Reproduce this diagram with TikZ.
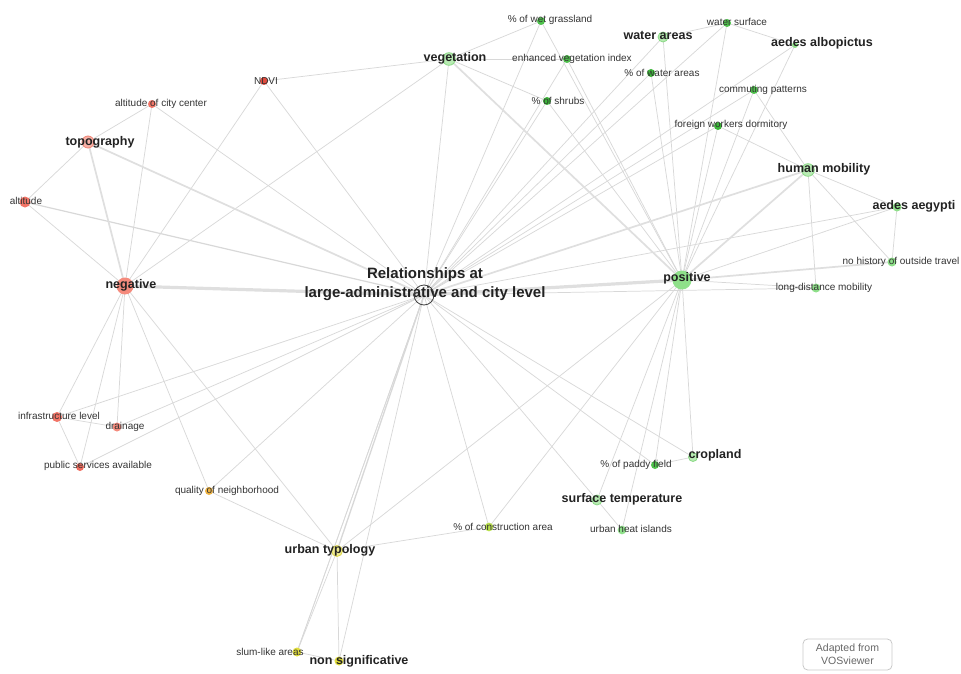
\documentclass[tikz,border=0pt]{standalone}
\usepackage{fontspec}
\setmainfont{Liberation Sans}
\definecolor{edgec}{HTML}{D8D8D8}
\definecolor{edgeb}{HTML}{DFDFDF}
\definecolor{txt}{HTML}{333333}
\definecolor{btxt}{HTML}{222222}
\definecolor{rneg}{HTML}{F58B7D}
\definecolor{rtopo}{HTML}{F6B0A6}
\definecolor{rtopod}{HTML}{EF8373}
\definecolor{ralt}{HTML}{F27466}
\definecolor{rdark}{HTML}{DF4A3D}
\definecolor{rpub}{HTML}{F06C5E}
\definecolor{oqual}{HTML}{F0B443}
\definecolor{gpos}{HTML}{8FE08A}
\definecolor{glight}{HTML}{B8EBB3}
\definecolor{gring}{HTML}{8AD985}
\definecolor{gmid}{HTML}{4FC24C}
\definecolor{gdark}{HTML}{3CB539}
\definecolor{ycon}{HTML}{B9E04C}
\definecolor{ylight}{HTML}{EFEB90}
\definecolor{yring}{HTML}{DCD64A}
\definecolor{ydot}{HTML}{E0DC3C}
\definecolor{wmk}{HTML}{666666}
\definecolor{wmkb}{HTML}{C8C8C8}
\tikzset{
  dot/.style={circle, inner sep=0pt, draw=none},
  edge/.style={draw=edgec, line width=0.55pt},
  edgeB/.style={draw=edgeb, line width=1.3pt},
  edgeC/.style={draw=edgeb, line width=2.4pt},
  sl/.style={text=txt, font=\fontsize{7.5}{9}\selectfont, inner sep=0pt},
  bl/.style={text=btxt, font=\fontsize{9.4}{11}\selectfont\bfseries, inner sep=0pt},
}
\begin{document}
\begin{tikzpicture}[x=0.75pt, y=-0.75pt]
\useasboundingbox (0,0) rectangle (961,674);
% ---------- nodes (positions) ----------
\node[dot, minimum size=15pt] (C) at (424,295) {};
\node[dot, minimum size=12.75pt] (neg) at (125,286) {};
\node[dot, minimum size=9pt] (topo) at (88,142) {};
\node[dot, minimum size=8.25pt] (alt) at (25,202) {};
\node[dot, minimum size=6pt] (altc) at (152,104) {};
\node[dot, minimum size=6pt] (ndvi) at (264,81) {};
\node[dot, minimum size=7.5pt] (infra) at (57,417) {};
\node[dot, minimum size=6.75pt] (drain) at (117,427) {};
\node[dot, minimum size=6pt] (pub) at (80,467) {};
\node[dot, minimum size=6pt] (qual) at (209,491) {};
\node[dot, minimum size=14.25pt] (pos) at (682,280) {};
\node[dot, minimum size=9.5pt] (veg) at (449,59) {};
\node[dot, minimum size=6pt] (wet) at (541,21) {};
\node[dot, minimum size=6pt] (evi) at (567,59) {};
\node[dot, minimum size=6pt] (shr) at (547,101) {};
\node[dot, minimum size=7.5pt] (wa) at (663,37) {};
\node[dot, minimum size=6pt] (ws) at (727,23) {};
\node[dot, minimum size=6pt] (pwa) at (651,73) {};
\node[dot, minimum size=4.5pt] (albo) at (795,45) {};
\node[dot, minimum size=6pt] (com) at (754,90) {};
\node[dot, minimum size=6pt] (fwd) at (718,126) {};
\node[dot, minimum size=9.5pt] (hm) at (808,170) {};
\node[dot, minimum size=6.75pt] (aeg) at (897,207) {};
\node[dot, minimum size=6.75pt] (noh) at (892,262) {};
\node[dot, minimum size=6.75pt] (ld) at (816,288) {};
\node[dot, minimum size=6.75pt] (crop) at (693,457) {};
\node[dot, minimum size=6pt] (pad) at (655,465) {};
\node[dot, minimum size=7.5pt] (st) at (597,500) {};
\node[dot, minimum size=6.5pt] (uhi) at (622,530) {};
\node[dot, minimum size=6.5pt] (con) at (489,527) {};
\node[dot, minimum size=8.25pt] (ut) at (337,551) {};
\node[dot, minimum size=6.75pt] (ns) at (339,661) {};
\node[dot, minimum size=6.75pt] (slum) at (297,652) {};
% ---------- edges ----------
\foreach \n in {altc,ndvi,veg,wet,evi,shr,wa,pwa,ws,albo,com,fwd,aeg,ld,crop,pad,st,con,ns,slum,qual,pub,drain,infra}
  \draw[edge] (C.center) -- (\n.center);
\foreach \n in {wet,evi,shr,wa,pwa,ws,albo,com,fwd,aeg,ld,crop,pad,st,uhi,con,ut}
  \draw[edge] (pos.center) -- (\n.center);
\foreach \n in {alt,altc,ndvi,veg,infra,drain,pub,qual,ut}
  \draw[edge] (neg.center) -- (\n.center);
\draw[edgeC] (C.center) -- (neg.center);
\draw[edgeC] (C.center) -- (pos.center);
\draw[edgeB] (C.center) -- (topo.center);
\draw[edgeB] (C.center) -- (hm.center);
\draw[edge, line width=0.9pt] (C.center) -- (alt.center);
\draw[edge, line width=1pt] (C.center) -- (ut.center);
\draw[edgeB] (neg.center) -- (topo.center);
\draw[edgeB] (pos.center) -- (veg.center);
\draw[edgeB] (pos.center) -- (hm.center);
\draw[edgeB] (pos.center) -- (noh.center);
\draw[edge] (topo.center) -- (alt.center);
\draw[edge] (topo.center) -- (altc.center);
\draw[edge] (ndvi.center) -- (veg.center);
\draw[edge] (veg.center) -- (wet.center);
\draw[edge] (veg.center) -- (evi.center);
\draw[edge] (veg.center) -- (shr.center);
\draw[edge] (wa.center) -- (ws.center);
\draw[edge] (ws.center) -- (albo.center);
\draw[edge] (com.center) -- (hm.center);
\draw[edge] (fwd.center) -- (hm.center);
\draw[edge] (hm.center) -- (aeg.center);
\draw[edge] (hm.center) -- (noh.center);
\draw[edge] (hm.center) -- (ld.center);
\draw[edge] (aeg.center) -- (noh.center);
\draw[edge] (crop.center) -- (pad.center);
\draw[edge] (st.center) -- (uhi.center);
\draw[edge] (con.center) -- (ut.center);
\draw[edge] (ut.center) -- (ns.center);
\draw[edge] (ut.center) -- (slum.center);
\draw[edge] (ut.center) -- (qual.center);
\draw[edge] (slum.center) -- (ns.center);
\draw[edge] (slum.center) -- (C.center);
\draw[edge] (infra.center) -- (drain.center);
\draw[edge] (infra.center) -- (pub.center);
% ---------- dots on top of edges ----------
\foreach \n/\c/\s in {neg/rneg/12.75pt, alt/ralt/8.25pt, altc/ralt/6pt, ndvi/rdark/6pt, infra/ralt/7.5pt, drain/rneg/6.75pt, pub/rpub/6pt, qual/oqual/6pt, pos/gpos/14.25pt, wet/gmid/6pt, evi/gmid/6pt, shr/gdark/6pt, ws/gmid/6pt, pwa/gdark/6pt, albo/gpos/4.5pt, com/gmid/6pt, fwd/gdark/6pt, aeg/gpos/6.75pt, noh/gpos/6.75pt, ld/gpos/6.75pt, pad/gmid/6pt, uhi/gpos/6.5pt, con/ycon/6.5pt, ns/ydot/6.75pt, slum/ydot/6.75pt}
  \fill[\c] (\n.center) circle[radius=\s/2];
\filldraw[fill=rtopo, draw=rtopod, line width=0.6pt] (topo.center) circle[radius=4.5pt];
\foreach \n/\s in {veg/9.5pt, wa/7.5pt, hm/9.5pt, st/7.5pt, crop/6.75pt}
  \filldraw[fill=glight, draw=gring, line width=0.6pt] (\n.center) circle[radius=\s/2];
\filldraw[fill=ylight, draw=yring, line width=0.6pt] (ut.center) circle[radius=4.125pt];
% ---------- labels ----------
\node[bl] (lneg) at (131,285) {negative};
\node[bl] (ltopo) at (100,142) {topography};
\node[sl] (lalt) at (26,201) {altitude};
\node[sl] (laltc) at (161,104) {altitude of city center};
\node[sl] (lndvi) at (266,81) {NDVI};
\node[sl] (linfra) at (59,416) {infrastructure level};
\node[sl] (ldrain) at (125,427) {drainage};
\node[sl] (lpub) at (98,466) {public services available};
\node[sl] (lqual) at (227,491) {quality of neighborhood};
\node[bl] (lveg) at (455,58) {vegetation};
\node[sl] (lwet) at (550,20) {\% of wet grassland};
\node[sl] (levi) at (572,59) {enhanced vegetation index};
\node[sl] (lshr) at (558,101) {\% of shrubs};
\node[bl] (lwa) at (658,35) {water areas};
\node[sl] (lws) at (737,22) {water surface};
\node[sl] (lpwa) at (662,73) {\% of water areas};
\node[bl] (lalbo) at (822,43) {aedes albopictus};
\node[sl] (lcom) at (763,90) {commuting patterns};
\node[sl] (lfwd) at (731,125) {foreign workers dormitory};
\node[bl] (lhm) at (824,169) {human mobility};
\node[bl] (laeg) at (914,206) {aedes aegypti};
\node[sl] (lnoh) at (901,262) {no history of outside travel};
\node[sl] (lld) at (824,288) {long-distance mobility};
\node[bl] (lpos) at (687,278) {positive};
\node[bl] (lcrop) at (715,455) {cropland};
\node[sl] (lpad) at (636,465) {\% of paddy field};
\node[bl] (lst) at (622,499) {surface temperature};
\node[sl] (luhi) at (631,529) {urban heat islands};
\node[sl] (lcon) at (503,527) {\% of construction area};
\node[bl] (lut) at (330,550) {urban typology};
\node[bl] (lns) at (359,661) {non significative};
\node[sl] (lslum) at (270,652) {slum-like areas};
\node[text=btxt, font=\fontsize{11.25}{14.25}\selectfont\bfseries, align=center, inner sep=0pt] (lC) at (425,284.5) {Relationships at\\large-administrative and city level};
\draw[draw=black!75, line width=0.6pt] (C.center) circle[radius=7.5pt];
% ---------- watermark ----------
\node[draw=wmkb, line width=0.6pt, rounded corners=3.5pt, minimum width=66.75pt, minimum height=23.25pt, inner sep=0pt, align=center, text=wmk, font=\fontsize{7.9}{9.75}\selectfont] (wm) at (847.5,654.5) {Adapted from\\VOSviewer};
\end{tikzpicture}
\end{document}
